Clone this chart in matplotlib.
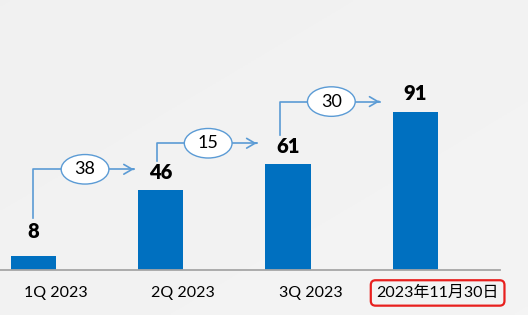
import numpy as np
import matplotlib.pyplot as plt
from matplotlib.patches import Ellipse
import matplotlib.transforms as mtransforms

categories = ['1Q 2023', '2Q 2023', '3Q 2023', '2023年11月30日']
values = [8, 46, 61, 91]
changes = [38, 15, 30]

bar_color = '#0070c0'
arrow_color = '#5b9bd5'
fonts = ['Lato', 'Noto Sans CJK SC', 'DejaVu Sans']
plt.rcParams['font.family'] = fonts

fig = plt.figure(figsize=(5.28, 3.15), dpi=100)

# very soft grey background
bg = fig.add_axes([0, 0, 1, 1])
gx, gy = np.meshgrid(np.linspace(0, 1, 200), np.linspace(0, 1, 120))
grad = 0.945 + 0.012 * (0.5 * gx + 0.5 * gy)
bg.imshow(np.dstack([grad] * 3), aspect='auto', extent=[0, 1, 0, 1])
bg.axis('off')

ax = fig.add_axes([0, 45 / 315, 500 / 528, 270 / 315])
ax.patch.set_alpha(0)
x = np.arange(len(values))
ax.bar(x, values, width=0.355, color=bar_color, zorder=2)
ax.set_xlim(-0.263, 3.665)
ax.set_ylim(0, 155.5)
for s in ['top', 'right', 'left']:
    ax.spines[s].set_visible(False)
ax.spines['bottom'].set_color('#a6a6a6')
ax.spines['bottom'].set_linewidth(1.3)
ax.set_xticks([])
ax.set_yticks([])

# value labels
for i, v in enumerate(values):
    off = 18 if i == 0 else 13
    ax.annotate(str(v), (i, v), xytext=(0, off), textcoords='offset points',
                ha='center', va='center', fontsize=14.5, fontweight='heavy', color='black')

# category labels (shifted right a little, as in the original)
trans = mtransforms.blended_transform_factory(ax.transData, ax.transAxes)
for i, c in enumerate(categories):
    t = ax.text(i + 0.175, -0.085, c, transform=trans, ha='center', va='center',
                fontsize=11.5, color='black', clip_on=False)
    if i == len(categories) - 1:
        t.set_bbox(dict(boxstyle='round,pad=0.35,rounding_size=0.3', fc='none',
                        ec='#e8201e', lw=1.6))

# growth arrows with ellipse labels
lifts = [12, 12, 6]
for i, d in enumerate(changes):
    x0 = i - 0.03 * i
    x1 = i + 1 - 0.19 - 0.035 * i
    y0 = values[i] + (22 if i == 0 else 17)
    y1 = values[i + 1] + lifts[i]
    ax.plot([x0, x0, x1 - 0.02], [y0, y1, y1], color=arrow_color, lw=1.2, zorder=3)
    ax.annotate('', xy=(x1, y1), xytext=(x1 - 0.05, y1),
                arrowprops=dict(arrowstyle='->,head_length=0.6,head_width=0.35',
                                color=arrow_color, lw=1.2))
    xm = (x0 + x1) / 2
    ax.add_patch(Ellipse((xm, y1), 0.375, 17, fc='white', ec=arrow_color, lw=1.0, zorder=4))
    ax.text(xm, y1, str(d), ha='center', va='center', fontsize=13, color='black', zorder=5)

fig.savefig('out.png', dpi=100)
